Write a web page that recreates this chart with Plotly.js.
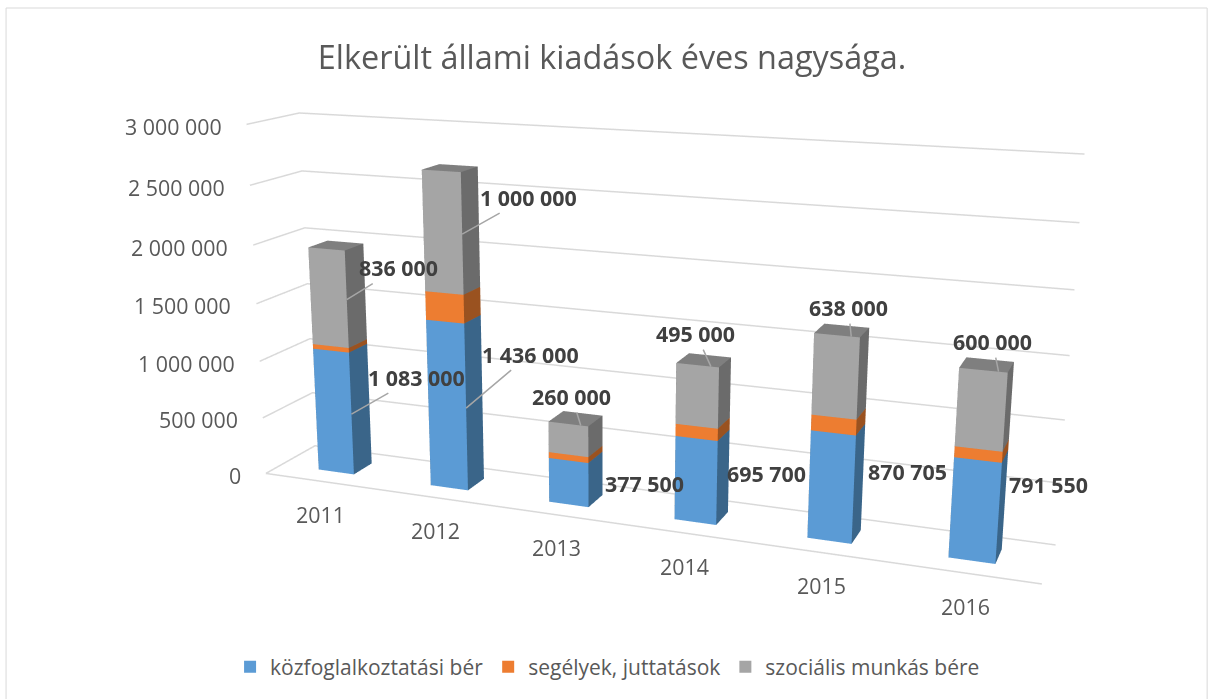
<!DOCTYPE html>
<html><head><meta charset="utf-8">
<script src="https://cdn.plot.ly/plotly-3.0.1.min.js"></script>
<style>html,body{margin:0;padding:0;background:#fff;width:1212px;height:699px;overflow:hidden}#c{position:absolute;left:0;top:-348px;width:1212px;height:1375px}</style></head>
<body><div id="c"></div>
<script>
const years=['2011','2012','2013','2014','2015','2016'];
const berek=[1083000,1436000,377500,695700,870705,791550];
const segelyek=[40000,240000,50000,100000,125000,85000];
const szocialis=[836000,1000000,260000,495000,638000,600000];
const seriesNames=['közfoglalkoztatási bér','segélyek, juttatások','szociális munkás bére'];
const berLabels=['1 083 000','1 436 000','377 500','695 700','870 705','791 550'];
const szocLabels=['836 000','1 000 000','260 000','495 000','638 000','600 000'];
const front=['#5b9bd5','#ed7d31','#a5a5a5'];
const side=['#3a6589','#9a5220','#6b6b6b'];
const topc=['#4a82b5','#c96a28','#7f7f7f'];
const zTicks=[0,500000,1000000,1500000,2000000,2500000,3000000];
const zLabels=['0','500 000','1 000 000','1 500 000','2 000 000','2 500 000','3 000 000'];
const barW=0.32, y0=-0.22, y1=0.24, yBack=0.6, yFront=-0.6, xL=-0.5, xR=5.5;
const H=1375, T=-348;
const py=p=>1-(p-T)/H;
function box(i,lo,hi,k){
 const a=i-barW/2,b=i+barW/2;
 const X=[a,b,b,a,a,b,b,a],Y=[y0,y0,y1,y1,y0,y0,y1,y1],Z=[lo,lo,lo,lo,hi,hi,hi,hi];
 return {type:'mesh3d',x:X,y:Y,z:Z,
  i:[0,0,1,1,4,4,3,3,0,0,2,2],j:[1,5,2,6,5,6,2,6,4,7,3,7],k:[5,4,6,5,6,7,6,7,7,3,7,6],
  facecolor:[front[k],front[k],side[k],side[k],topc[k],topc[k],side[k],side[k],side[k],side[k],side[k],side[k]],
  flatshading:true,lighting:{ambient:1,diffuse:0,specular:0,fresnel:0,roughness:1},showlegend:false,hoverinfo:'skip',showscale:false};
}
const traces=[];
years.forEach((y,i)=>{let s=0;[berek,segelyek,szocialis].forEach((arr,k)=>{traces.push(box(i,s,s+arr[i],k));s+=arr[i];});});
const grid={color:'#d9d9d9',width:3};
zTicks.forEach(z=>{traces.push({type:'scatter3d',mode:'lines',x:[xL,xL,xR],y:[yFront,yBack,yBack],z:[z,z,z],line:grid,showlegend:false,hoverinfo:'skip'});});
traces.push({type:'scatter3d',mode:'lines',x:[xL,xR],y:[yFront,yFront],z:[0,0],line:grid,showlegend:false,hoverinfo:'skip'});
seriesNames.forEach((n,k)=>traces.push({type:'scatter3d',mode:'markers',x:[null],y:[null],z:[null],name:n,marker:{symbol:'square',size:12,color:front[k]},showlegend:true}));
const ann=[];
const axisFont={size:21.4,color:'#595959'}, labelFont={size:21.4,color:'#404040',family:'Open Sans'};
zTicks.forEach((z,i)=>ann.push({x:xL,y:yFront,z:z,text:zLabels[i],showarrow:false,xanchor:'right',xshift:-23,yshift:-2,font:axisFont}));
years.forEach((y,i)=>ann.push({x:i,y:yFront,z:0,text:y,showarrow:false,yshift:-33,font:axisFont}));
const szocDx=[52,66,-9,-15,-3,-6], szocDy=[-32,-37,-29,-33,-29,-30];
const berDx=[65,64,56,50,54,50], berDy=[-37,-54,-2,-10,-19,-29];
years.forEach((y,i)=>{
 const topZ=berek[i]+segelyek[i]+szocialis[i], szMid=berek[i]+segelyek[i]+szocialis[i]/2;
 if(i<2) ann.push({x:i+barW/2,y:y0,z:szMid,text:szocLabels[i],showarrow:true,arrowhead:0,arrowwidth:1.5,arrowcolor:'#a6a6a6',ax:szocDx[i],ay:szocDy[i],font:{...labelFont}});
 else ann.push({x:i+0.1,y:y0,z:topZ,text:szocLabels[i],showarrow:true,arrowhead:0,arrowwidth:1.5,arrowcolor:'#a6a6a6',ax:szocDx[i],ay:szocDy[i],font:{...labelFont}});
 if(i<2) ann.push({x:i+barW/2,y:y0,z:berek[i]/2,text:berLabels[i],showarrow:true,arrowhead:0,arrowwidth:1.5,arrowcolor:'#a6a6a6',ax:berDx[i],ay:berDy[i],font:{...labelFont}});
 else ann.push({x:i+barW/2,y:y0,z:berek[i]/2,text:berLabels[i],showarrow:false,xshift:berDx[i],yshift:-berDy[i],font:{...labelFont}});
});
ann.forEach(a=>{if(a.font.family){a.text='<b>'+a.text+'</b>';}});
const layout={width:1212,height:H,margin:{l:0,r:0,t:0,b:0},paper_bgcolor:'#fff',showlegend:true,
 title:{text:'Elkerült állami kiadások éves nagysága.',font:{family:'Open Sans',size:32.4,color:'#595959'},x:0.505,xanchor:'center',xref:'paper',yref:'paper',y:py(58),yanchor:'middle',automargin:false},
 font:{family:'Open Sans'},
 legend:{orientation:'h',x:0.5013,xanchor:'center',y:py(667),yanchor:'middle',font:{size:21,color:'#595959'}},
 scene:{domain:{x:[0,1],y:[0,1]},aspectmode:'manual',aspectratio:{x:2.172,y:0.272,z:1},
  camera:{eye:{x:1.4645,y:-3.95,z:1.0818},center:{x:-0.2716,y:0.4576,z:-0.1697},up:{x:0.0098,y:0.0037,z:1}},
  xaxis:{visible:false,range:[xL-0.01,xR+0.01]},yaxis:{visible:false,range:[yFront-0.01,yBack+0.01]},zaxis:{visible:false,range:[-5000,3005000]},
  annotations:ann},
 shapes:[{type:'rect',xref:'paper',yref:'paper',x0:0.005,x1:0.996,y0:py(705),y1:py(8),line:{color:'#d9d9d9',width:1}}]};
Plotly.newPlot('c',traces,layout,{displayModeBar:false});
</script></body></html>
